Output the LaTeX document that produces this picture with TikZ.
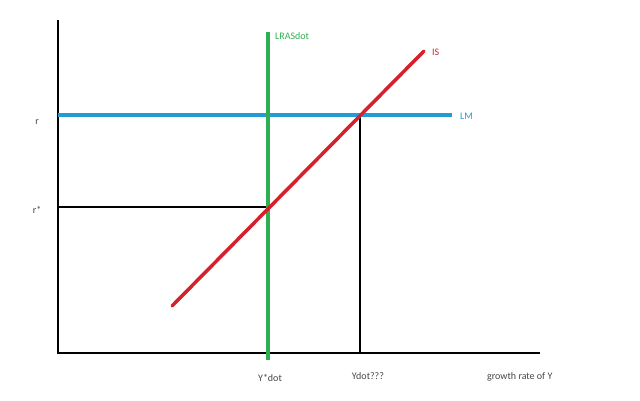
\documentclass[tikz,border=0pt]{standalone}
\usepackage{fontspec}
\setmainfont{Carlito}
\definecolor{lragreen}{RGB}{46,176,80}
\definecolor{isred}{RGB}{214,32,44}
\definecolor{lmblue}{RGB}{34,156,212}
\definecolor{labelgray}{RGB}{70,70,70}
\begin{document}
\begin{tikzpicture}[x=1pt,y=-1pt,
  axis/.style={black,line width=2pt},
  guide/.style={black,line width=1.6pt},
  curve/.style={line width=3.5pt},
  lbl/.style={font=\fontsize{10}{11}\selectfont,inner sep=0pt}]
\useasboundingbox (0,0) rectangle (640,400);
% axes
\coordinate (ytop) at (58,20);
\coordinate (orig) at (58,353);
\coordinate (xend) at (540,353);
\draw[axis] (ytop) -- (orig) -- (xend);
% guide lines
\coordinate (rstar) at (58,207);
\coordinate (eqA) at (268,207);
\coordinate (eqB) at (360,115);
\coordinate (ydotb) at (360,353);
\draw[guide] (rstar) -- (eqA);
\draw[guide] (eqB) -- (ydotb);
% LM
\coordinate (lmL) at (58,115);
\coordinate (lmR) at (452,115);
\draw[curve,lmblue] (lmL) -- (lmR);
% LRAS
\coordinate (lraT) at (268,32);
\coordinate (lraB) at (268,360);
\draw[curve,lragreen] (lraT) -- (lraB);
% IS
\coordinate (isA) at (172,306);
\coordinate (isB) at (424,51);
\draw[curve,isred,line cap=round] (isA) -- (isB);
% labels
\node[lbl,text=labelgray] (r) at (37,122) {r};
\node[lbl,text=labelgray] (rs) at (37,210) {r*};
\node[lbl,text=lragreen,anchor=west] (lra) at (275,36) {LRASdot};
\node[lbl,text=isred,anchor=west] (is) at (432,52) {IS};
\node[lbl,text=lmblue,anchor=west] (lm) at (460,116) {LM};
\node[lbl,text=labelgray] (ysd) at (270,378) {Y*dot};
\node[lbl,text=labelgray] (yd) at (368,376) {Ydot???};
\node[lbl,text=labelgray,anchor=west] (gr) at (487,377) {growth rate of Y};
\end{tikzpicture}
\end{document}
